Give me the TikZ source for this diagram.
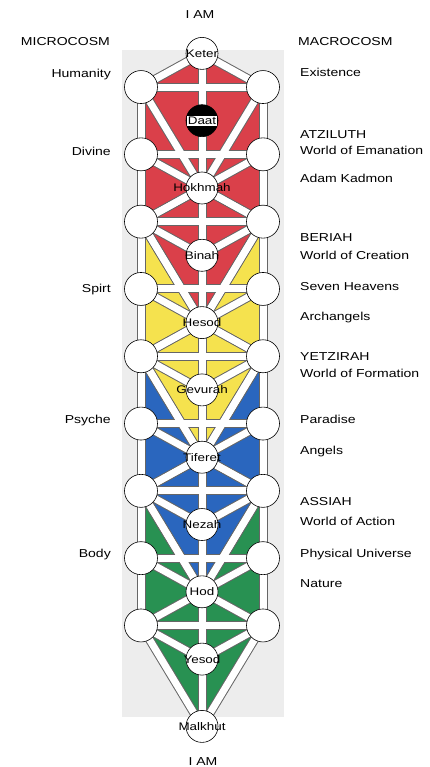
\documentclass[tikz,border=0pt]{standalone}
\usepackage{fontspec}
\setmainfont{Liberation Sans}[FakeStretch=1.22]
\usetikzlibrary{positioning}
\pgfdeclarelayer{fills}
\pgfdeclarelayer{paths}
\pgfdeclarelayer{pathsw}
\pgfsetlayers{fills,paths,pathsw,main}
\definecolor{atzred}{RGB}{218,64,74}
\definecolor{beryellow}{RGB}{245,226,78}
\definecolor{yetblue}{RGB}{42,102,190}
\definecolor{assgreen}{RGB}{40,145,82}
\tikzset{
  sefira/.style={circle,draw,fill=white,line width=0.6pt,minimum size=32pt,inner sep=0pt},
  nev/.style={inner sep=0pt,font=\fontsize{11}{12}\selectfont},
  kli/.style={circle,draw,fill=white,line width=0.6pt,minimum size=33pt,inner sep=0pt},
  cim/.style={font=\fontsize{11.5}{13}\selectfont,inner sep=0pt},
  ut/.style={line width=9pt,draw=black!60},
  utw/.style={line width=7pt,draw=white},
}
% the 22 paths of each of the four trees, drawn with style #1
\newcommand\ladderpaths[1]{%
  \foreach \ko/\ka/\kc/\kd/\ke/\kf/\kg in {0/1/3/4/5/6/8,4/5/7/8/9/10/12,8/9/11/12/13/14/16,12/13/15/16/17/18/20}{
    \foreach \p/\q in {c\ko/r\ka,c\ko/l\ka,c\ko/c\kd,r\ka/l\ka,r\ka/c\kd,r\ka/r\kc,l\ka/c\kd,l\ka/l\kc,
      r\kc/l\kc,r\kc/c\kd,r\kc/r\ke,l\kc/c\kd,l\kc/l\ke,c\kd/r\ke,c\kd/l\ke,c\kd/c\kf,
      r\ke/l\ke,r\ke/c\kf,r\ke/c\kg,l\ke/c\kf,l\ke/c\kg,c\kf/c\kg}
      \draw[#1] (\p.center) -- (\q.center);
  }}

\begin{document}
\begin{tikzpicture}[x=1pt,y=-1pt]
  \useasboundingbox (0,0) rectangle (430,767);
  % middle pillar
  \foreach \L/\nm in {0/Keter,4/Hokhmah,6/Binah,8/Hesod,10/Gevurah,12/Tiferet,14/Nezah,16/Hod,18/Yesod,20/Malkhut}{
    \node[sefira] (c\L) at (202,{53.4+33.65*\L}) {};
    \node[nev] (n\L) at (c\L) {\nm};
  }
  \node[sefira,fill=black] (c2) at (202,{53.4+33.65*2}) {};
  \node[nev,fill=white,inner sep=1pt] (daat) at (c2) {Daat};
  % side pillars
  \foreach \L in {1,3,...,17} {
    \node[kli] (l\L) at (141,{53.4+33.65*\L}) {};
    \node[kli] (r\L) at (263,{53.4+33.65*\L}) {};
  }
  % the four worlds
  \begin{pgfonlayer}{fills}
    \fill[black!7] (122,50) rectangle (284,717);
    \foreach \ko/\ka/\ke/\kg/\col in {12/13/17/20/assgreen,8/9/13/16/yetblue,4/5/9/12/beryellow,0/1/5/8/atzred}
      \fill[\col] (c\ko.center) -- (r\ka.center) -- (r\ke.center) -- (c\kg.center)
        -- (l\ke.center) -- (l\ka.center) -- cycle;
  \end{pgfonlayer}
  \begin{pgfonlayer}{paths}
    \ladderpaths{ut}
  \end{pgfonlayer}
  \begin{pgfonlayer}{pathsw}
    \ladderpaths{utw}
  \end{pgfonlayer}
  % texts
  \node[cim] (iamtop) at (200,15) {I AM};
  \node[cim] (iambot) at (203,762) {I AM};
  \node[cim,anchor=mid east] (micro) at (110,43) {MICROCOSM};
  \node[cim,anchor=mid west] (macro) at (298,43) {MACROCOSM};
  \foreach \y/\t in {75/Humanity,153/Divine,290/Spirt,421/Psyche,555/Body}
    \node[cim,anchor=mid east] (mi\y) at (111,\y) {\t};
  \foreach \y/\t in {74/Existence,136/ATZILUTH,152/World of Emanation,180/Adam Kadmon,
      239/BERIAH,257/World of Creation,288/Seven Heavens,318/Archangels,358/YETZIRAH,
      375/World of Formation,421/Paradise,452/Angels,503/ASSIAH,523/World of Action,
      555/Physical Universe,585/Nature}
    \node[cim,anchor=mid west] (ma\y) at (300,\y) {\t};
\end{tikzpicture}
\end{document}
